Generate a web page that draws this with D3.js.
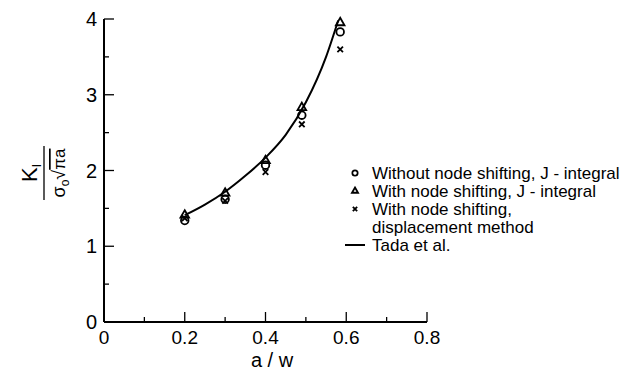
<!DOCTYPE html>
<html>
<head>
<meta charset="utf-8">
<script src="https://cdn.jsdelivr.net/npm/d3@7"></script>
<style>
  body { margin: 0; background: #fff; }
  svg { display: block; font-family: "Liberation Sans", Arial, Helvetica, sans-serif; }
</style>
</head>
<body>
<svg id="chart" width="626" height="378"></svg>
<script>
// a/w positions of the FE results
const aw = [0.2, 0.3, 0.4, 0.49, 0.585];
// K_I / (sigma_o sqrt(pi a))
const withoutShiftJ = [1.34, 1.62, 2.07, 2.73, 3.83];
const withShiftJ = [1.41, 1.70, 2.13, 2.83, 3.95];
const withShiftDisp = [1.37, 1.60, 1.98, 2.61, 3.60];
// Tada et al. reference curve
const tadaAw = [0.2, 0.25, 0.3, 0.35, 0.4, 0.45, 0.5, 0.55, 0.58];
const tadaK = [1.41, 1.55, 1.72, 1.93, 2.17, 2.47, 2.90, 3.50, 3.98];
const xTicks = [0, 0.2, 0.4, 0.6, 0.8];
const yTicks = [0, 1, 2, 3, 4];

const svg = d3.select('#chart');
const x = d3.scaleLinear().domain([0, 0.8]).range([104, 427]);
const y = d3.scaleLinear().domain([0, 4]).range([322, 19]);

// axes: inward ticks, left + bottom only
const ax = svg.append('g').attr('stroke', '#000').attr('fill', 'none');
ax.append('line').attr('x1', x(0)).attr('x2', x(0.8)).attr('y1', y(0)).attr('y2', y(0)).attr('stroke-width', 2);
ax.append('line').attr('x1', x(0)).attr('x2', x(0)).attr('y1', y(0)).attr('y2', y(4)).attr('stroke-width', 2);
d3.range(0, 0.81, 0.1).forEach((v, i) => {
  const len = i % 2 === 0 ? 10 : 5;
  ax.append('line').attr('x1', x(v)).attr('x2', x(v)).attr('y1', y(0)).attr('y2', y(0) - len).attr('stroke-width', 1.3);
});
d3.range(0, 4.01, 0.5).forEach((v, i) => {
  const len = i % 2 === 0 ? 10 : 5;
  ax.append('line').attr('x1', x(0)).attr('x2', x(0) + len).attr('y1', y(v)).attr('y2', y(v)).attr('stroke-width', 1.3);
});

svg.append('g').selectAll('text').data(xTicks).join('text')
  .attr('x', d => x(d)).attr('y', 344)
  .attr('text-anchor', 'middle').attr('font-size', 19)
  .text(d => d === 0 ? '0' : d.toFixed(1));
svg.append('g').selectAll('text').data(yTicks).join('text')
  .attr('x', 97).attr('y', d => y(d) + 7)
  .attr('text-anchor', 'end').attr('font-size', 20)
  .text(d => d);

svg.append('text').attr('x', 272).attr('y', 367).attr('text-anchor', 'middle')
  .attr('font-size', 20).text('a / w');

// y title as rotated fraction
const yt = svg.append('g').attr('transform', 'translate(44,173) rotate(-90)');
yt.append('line').attr('x1', -27).attr('x2', 27).attr('y1', 0).attr('y2', 0).attr('stroke', '#000').attr('stroke-width', 1.3);
const num = yt.append('text').attr('x', 0).attr('y', -7).attr('text-anchor', 'middle').attr('font-size', 22);
num.append('tspan').text('K');
num.append('tspan').attr('font-size', 12).attr('dy', 4).text('I');
const den = yt.append('text').attr('x', 0).attr('y', 21).attr('text-anchor', 'middle').attr('font-size', 18);
den.append('tspan').text('σ');
den.append('tspan').attr('font-size', 12).attr('dy', 4).text('o');
den.append('tspan').attr('font-size', 18).attr('dy', -4).text('√');
den.append('tspan').attr('font-size', 17).style('text-decoration', 'overline').text('πa');

// Tada et al. curve
const line = d3.line().x((d, i) => x(tadaAw[i])).y(d => y(d)).curve(d3.curveMonotoneX);
svg.append('path').datum(tadaK).attr('d', line)
  .attr('fill', 'none').attr('stroke', '#000').attr('stroke-width', 2);

const circ = d3.symbol().type(d3.symbolCircle).size(45);
const tri = d3.symbol().type(d3.symbolTriangle).size(32);
const cross = d3.symbol().type(d3.symbolX).size(22);

function markers(vals, sym) {
  svg.append('g').selectAll('path').data(vals).join('path')
    .attr('transform', (d, i) => `translate(${x(aw[i])},${y(d)})`)
    .attr('d', sym).attr('fill', 'none').attr('stroke', '#000').attr('stroke-width', 1.8);
}
markers(withoutShiftJ, circ);
markers(withShiftJ, tri);
markers(withShiftDisp, cross);

// legend
const legend = [
  { sym: d3.symbol().type(d3.symbolCircle).size(22), label: ['Without node shifting, J - integral'] },
  { sym: d3.symbol().type(d3.symbolTriangle).size(16), label: ['With node shifting, J - integral'] },
  { sym: d3.symbol().type(d3.symbolX).size(14), label: ['With node shifting,', 'displacement method'] },
  { sym: null, label: ['Tada et al.'] }
];
let ly = 173;
const lg = svg.append('g').attr('font-size', 17);
legend.forEach(item => {
  if (item.sym) {
    lg.append('path').attr('transform', `translate(355,${ly})`)
      .attr('d', item.sym()).attr('fill', 'none').attr('stroke', '#000').attr('stroke-width', 1.8);
  } else {
    lg.append('line').attr('x1', 345).attr('x2', 365).attr('y1', ly).attr('y2', ly).attr('stroke', '#000').attr('stroke-width', 2);
  }
  item.label.forEach((t, j) => {
    lg.append('text').attr('x', 372).attr('y', ly + 6 + j * 18).text(t);
  });
  ly += item.label.length * 18;
});
</script>
</body>
</html>
